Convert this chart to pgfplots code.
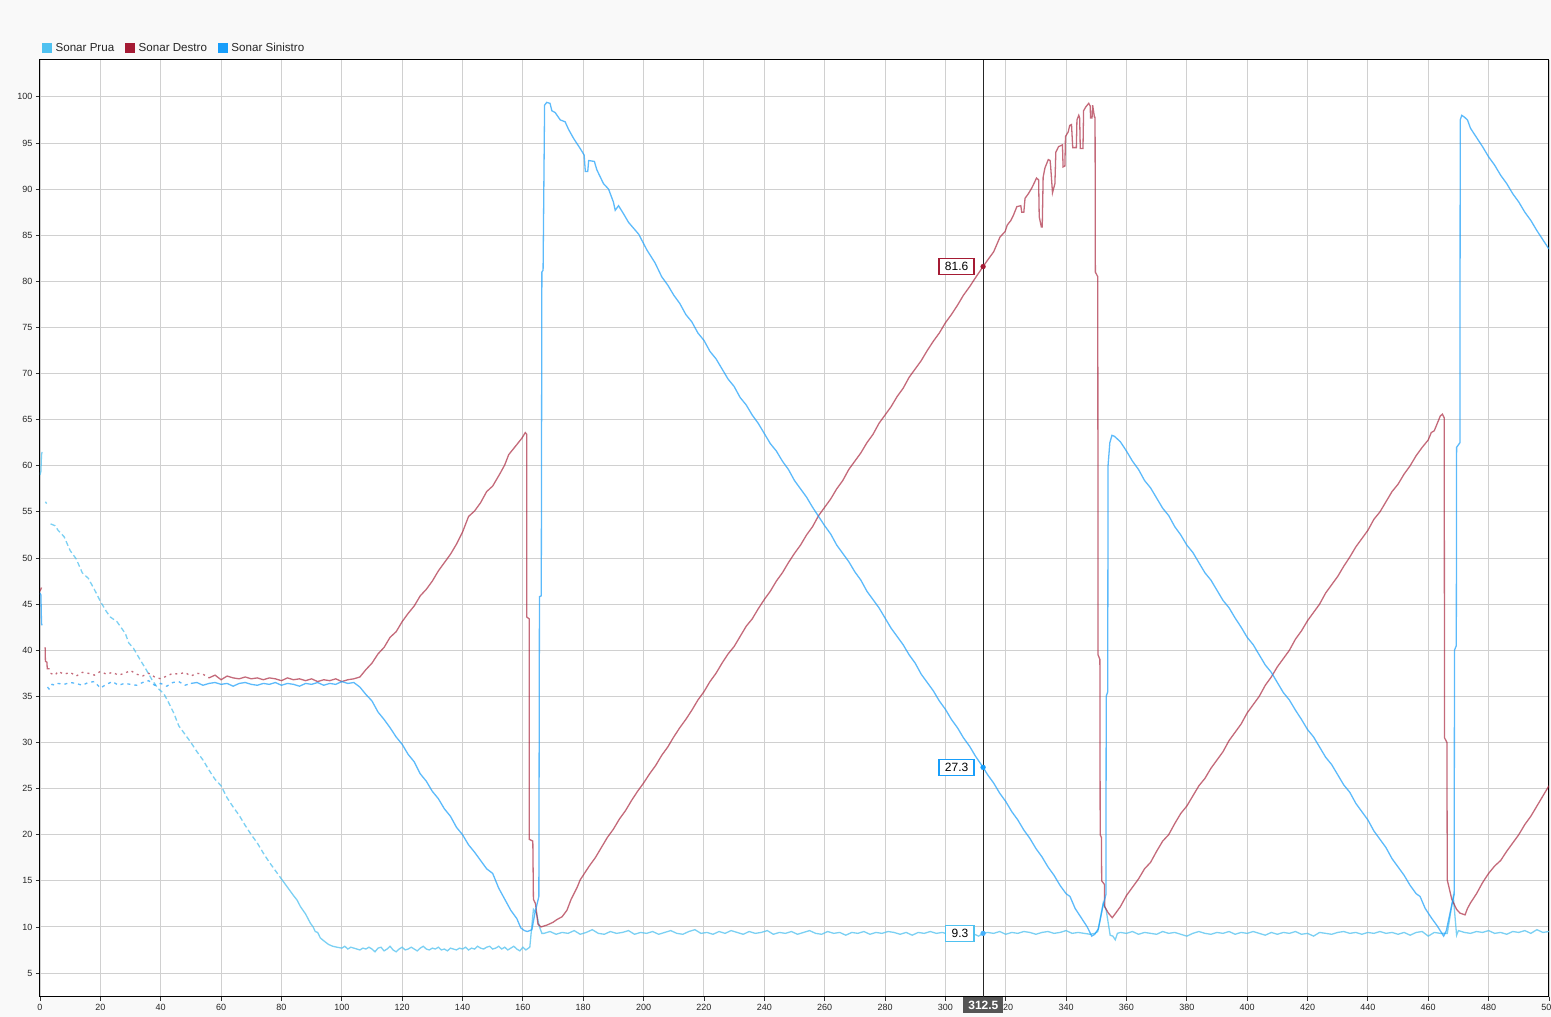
\documentclass[border=0pt]{standalone}
\usepackage{pgfplots}
\pgfplotsset{compat=1.18}
\usepackage{fontspec}
\setmainfont{Liberation Sans}
\definecolor{bgcol}{RGB}{249,249,249}
\definecolor{gridcol}{RGB}{208,208,208}
\definecolor{pruacol}{RGB}{79,193,240}
\definecolor{destrocol}{RGB}{165,27,52}
\definecolor{sinicol}{RGB}{24,158,250}
\definecolor{cursorbox}{RGB}{85,85,85}
\begin{document}
\begin{tikzpicture}
\fill[bgcol] (-40pt,-20pt) rectangle (1511pt,997pt);
\useasboundingbox (-40pt,-20pt) rectangle (1511pt,997pt);
\begin{axis}[
  at={(0,0)}, anchor=south west,
  scale only axis, width=1509pt, height=937pt,
  xmin=0, xmax=500, ymin=2.4, ymax=104,
  xtick={0,20,...,500}, ytick={5,10,...,100},
  grid=major, major grid style={gridcol, line width=0.9pt},
  axis line style={black, line width=1pt},
  tick pos=left, tick align=outside, major tick length=4pt,
  tick style={black!80, line width=0.8pt},
  axis background/.style={fill=white},
  ticklabel style={font=\fontsize{9}{10}\selectfont, text=black!85},
  /pgf/number format/assume math mode=true,
  /pgf/number format/1000 sep={},
  legend columns=3,
  legend style={at={(0,1)}, anchor=south west, xshift=2pt, yshift=5pt,
    draw=none, fill=none, font=\fontsize{11.6}{14}\selectfont, text=black!85,
    inner sep=0pt,
    /tikz/every odd column/.append style={column sep=2pt},
    /tikz/every even column/.append style={column sep=9pt}},
  legend cell align=left,
  clip=true,
]
\addlegendimage{legend image code/.code={\fill[pruacol] (0pt,-4.5pt) rectangle (9pt,4.5pt);}}
\addlegendentry{Sonar Prua}
\addlegendimage{legend image code/.code={\fill[destrocol] (0pt,-4.5pt) rectangle (9pt,4.5pt);}}
\addlegendentry{Sonar Destro}
\addlegendimage{legend image code/.code={\fill[sinicol] (0pt,-4.5pt) rectangle (9pt,4.5pt);}}
\addlegendentry{Sonar Sinistro}

% ---------------- Sonar Prua ----------------
\addplot[forget plot, pruacol, opacity=0.75, line width=1.3pt] coordinates {(0,59.0) (0.3,59.4) (0.5,61.2) (0.7,61.5)};
\addplot[forget plot, pruacol, opacity=0.75, line width=1.3pt] coordinates {(1.8,56.1) (2.2,55.9)};
\addplot[forget plot, pruacol, opacity=0.75, line width=1.3pt, dash pattern=on 5pt off 3pt] coordinates {
(3.5,53.7) (5,53.5) (6,53.0) (8,52.3) (10,50.8) (12,49.9) (14,48.4) (16,47.8) (18,46.6) (20,45.3)
(22,44.2) (23.3,43.6) (25.5,43.1) (28.3,41.8) (29.4,40.8) (31,40.2) (33.3,38.9) (35,38.0) (37.1,36.8) (39,35.9)
(41,35.3) (42.5,34.4) (44.3,33.2) (46,31.8) (48,30.9) (50,30.0) (52,29.0) (54,28.1) (56,27.0) (58,26.0)
(60,25.3) (62,24.0) (64,23.0) (66,22.1) (68,21.0) (70,20.0) (72,19.1) (74,18.0) (76,17.0) (78,16.1) (80,15.2)};
\addplot[forget plot, pruacol, opacity=0.75, line width=1.3pt] coordinates {
(80,15.2) (82,14.3) (84,13.4) (85.2,12.9) (86.3,12.2) (88,11.4) (89.6,10.4) (90.5,10.0) (91.2,9.5) (92,9.4)
(92.9,8.8) (94,8.5) (95.6,8.1) (97,7.9) (98.4,7.8) (100,7.7) (101,7.9) (102,7.6) (103,7.8) (104,7.7)
(105,7.6) (106,7.5) (107,7.7) (108,7.6) (109,7.8) (110,7.6) (111,7.3) (112,7.7) (113,7.8) (114,7.4)
(115,7.6) (116,7.9) (117,7.5) (118,7.3) (119,7.6) (120,7.8) (121,7.5) (122,7.6) (123,7.8) (124,7.6)
(125,7.4) (126,7.7) (127,7.9) (128,7.6) (129,7.5) (130,7.7) (131,7.6) (132,7.8) (133,7.5) (134,7.6)
(135,7.4) (136,7.7) (137,7.6) (138,7.5) (139,7.7) (140,7.6) (141,7.8) (142,7.5) (143,7.7) (144,7.6)
(145,7.9) (146,7.7) (147,7.6) (148,7.8) (149,7.9) (150,7.6) (151,7.7) (152,7.9) (153,7.6) (154,7.8)
(155,7.5) (156,7.7) (157,7.9) (158,7.6) (159,7.4) (160,7.8) (161,7.5) (162.3,7.8) (163.5,11.9) (164.5,11.5)
(165.5,10.0) (166.3,9.3) (167,9.3) (169,9.5) (171,9.2) (173,9.4) (175,9.3) (177,9.6) (179,9.2) (181,9.4)
(183,9.7) (185,9.3) (187,9.2) (189,9.5) (191,9.3) (193,9.4) (195,9.6) (197,9.2) (199,9.4) (201,9.3)
(203,9.5) (205,9.2) (207,9.4) (209,9.6) (211,9.3) (213,9.2) (215,9.5) (217,9.7) (219,9.3) (221,9.4)
(223,9.2) (225,9.5) (227,9.3) (229,9.6) (231,9.4) (233,9.2) (235,9.5) (237,9.3) (239,9.4) (241,9.6)
(243,9.2) (245,9.4) (247,9.3) (249,9.5) (251,9.2) (253,9.4) (255,9.6) (257,9.3) (259,9.2) (261,9.5)
(263,9.3) (265,9.4) (267,9.1) (269,9.4) (271,9.3) (273,9.5) (275,9.2) (277,9.4) (279,9.3) (281,9.5)
(283,9.4) (285,9.2) (287,9.4) (289,9.1) (291,9.4) (293,9.3) (295,9.5) (297,9.3) (299,9.4) (301,9.2)
(303,9.4) (305,9.3) (307,9.5) (309,9.3) (311,9.0) (312.5,9.3) (314,9.4) (316,9.3) (318,9.5) (320,9.2)
(322,9.4) (324,9.3) (326,9.5) (328,9.4) (330,9.2) (332,9.4) (334,9.5) (336,9.3) (338,9.4) (340,9.6)
(342,9.3) (344,9.4) (346,9.3) (348,9.2) (349.5,9.3) (350.5,9.5) (352.3,12.6) (353.3,11.8) (354.6,9.1) (355.5,9.0)
(356.3,8.6) (357,9.3) (358,9.4) (360,9.3) (362,9.5) (364,9.2) (366,9.4) (368,9.3) (370,9.2) (372,9.5)
(374,9.3) (376,9.4) (378,9.2) (380,9.0) (382,9.3) (384,9.5) (386,9.3) (388,9.2) (390,9.4) (392,9.3)
(394,9.5) (396,9.2) (398,9.4) (400,9.3) (402,9.5) (404,9.3) (406,9.1) (408,9.4) (410,9.2) (412,9.4)
(414,9.3) (416,9.5) (418,9.2) (420,9.3) (422,9.0) (424,9.4) (426,9.3) (428,9.2) (430,9.4) (432,9.5)
(434,9.3) (436,9.4) (438,9.2) (440,9.4) (442,9.3) (444,9.5) (446,9.3) (448,9.4) (450,9.2) (452,9.4)
(454,9.1) (456,9.4) (458,9.5) (460,9.0) (462,9.4) (464,9.3) (466.3,9.3) (468.3,13.3) (469.4,9.1) (470,9.6)
(472,9.4) (474,9.3) (476,9.5) (478,9.4) (480,9.6) (482,9.3) (484,9.4) (486,9.2) (488,9.5) (490,9.4)
(492,9.6) (494,9.3) (496,9.7) (498,9.4) (500,9.5)};

% ---------------- Sonar Destro ----------------
\addplot[forget plot, destrocol, opacity=0.65, line width=1.3pt] coordinates {(0,46.4) (0.5,46.8)};
\addplot[forget plot, destrocol, opacity=0.65, line width=1.3pt] coordinates {(1.7,40.3) (1.8,38.8) (2.3,38.7) (2.4,38.0) (3.2,38.0)};
\addplot[forget plot, destrocol, opacity=0.65, line width=1.3pt, dash pattern=on 2pt off 4pt] coordinates {
(3.5,37.5) (5,37.3) (6,37.7) (8,37.4) (10,37.6) (12,37.2) (14,37.6) (16,37.5) (18,37.3) (20,37.7)
(22,37.4) (24,37.6) (26,37.3) (28,37.5) (30,37.8) (32,37.4) (34,37.2) (36,37.5) (38,37.1) (40,36.9)
(42,37.2) (44,37.5) (46,37.4) (48,37.6) (50,37.2) (52,37.5) (54,37.4) (56,37.0)};
\addplot[forget plot, destrocol, opacity=0.65, line width=1.3pt] coordinates {
(56,37.0) (58,37.3) (60,36.8) (62,37.2) (64,37.0) (66,36.9) (68,37.1) (70,36.9) (72,37.0) (74,36.8)
(76,37.0) (78,36.9) (80,36.7) (82,37.0) (84,36.8) (86,36.9) (88,36.7) (90,36.9) (92,36.6) (94,36.8)
(96,36.7) (98,36.9) (100,36.6) (102,36.8) (104,36.9) (106,37.1) (108,37.9) (110,38.6) (112,39.6) (114,40.3)
(116,41.4) (118,42.0) (120,43.1) (122,44.0) (124,44.8) (126,45.9) (128,46.6) (130,47.5) (132,48.6) (134,49.5)
(136,50.4) (138,51.5) (140,52.8) (142,54.5) (144,55.1) (146,56.0) (148,57.2) (150,57.8) (152.5,59.2) (154,60.1)
(155.3,61.2) (158,62.3) (159.7,63.0) (160.8,63.6) (161.3,63.4) (161.3,43.6) (162.1,43.4) (162.1,19.5) (163.3,19.3) (163.5,13.0)
(164.2,12.5) (165,10.3) (166,10.0) (168,10.2) (170,10.5) (171.3,10.8) (173,11.1) (174.6,11.8) (176,13.0) (178,14.3)
(179,15.1) (180,15.6) (182,16.6) (184,17.5) (186,18.6) (188,19.7) (190,20.6) (192,21.7) (194,22.6) (196,23.7)
(198,24.7) (200,25.6) (202,26.6) (204,27.5) (206,28.6) (208,29.5) (210,30.6) (212,31.6) (214,32.5) (216,33.5)
(218,34.6) (220,35.5) (222,36.6) (224,37.5) (226,38.6) (228,39.6) (230,40.4) (232,41.5) (234,42.6) (236,43.4)
(238,44.5) (240,45.5) (242,46.4) (244,47.5) (246,48.4) (248,49.5) (250,50.5) (252,51.4) (254,52.5) (256,53.4)
(258,54.6) (260,55.5) (262,56.4) (264,57.5) (266,58.4) (268,59.6) (270,60.5) (272,61.4) (274,62.5) (276,63.4)
(278,64.6) (280,65.5) (282,66.4) (284,67.5) (286,68.4) (288,69.6) (290,70.5) (292,71.4) (294,72.5) (296,73.5)
(298,74.4) (300,75.5) (302,76.4) (304,77.4) (306,78.5) (308,79.4) (310,80.4) (312.5,81.6) (314,82.3) (316,83.2)
(318.1,84.8) (319.8,85.4) (320.5,86.1) (321.7,86.6) (322.6,87.2) (323.7,88.1) (325,88.2) (325.3,87.5) (326,87.5) (326.4,89.0)
(327.5,89.5) (328.6,90.1) (329.2,90.5) (330.2,91.2) (330.9,91.0) (331.1,87.0) (331.8,85.9) (332.1,85.9) (332.4,91.3) (333.0,92.3)
(334.1,93.2) (334.7,93.1) (334.9,92.4) (335.5,89.6) (336.3,90.6) (336.6,94.0) (337.5,94.6) (338.8,94.8) (339.0,92.4) (339.6,92.5)
(339.8,95.7) (340.7,96.2) (341.2,96.9) (341.8,97.0) (342.2,94.5) (343.4,94.5) (343.6,97.5) (344.2,98.0) (344.5,97.7) (344.7,94.4)
(345.6,94.4) (345.8,98.5) (346.5,98.9) (347.5,99.3) (348.0,99.0) (348.1,97.7) (348.6,97.7) (348.8,99.1) (349.4,97.8) (349.6,97.8)
(349.7,81.0) (350.5,80.5) (350.6,39.5) (351.2,39.0) (351.3,20.0) (351.7,19.7) (351.8,15.0) (352.7,14.6) (352.8,12.2) (354,11.5)
(355.3,11.0) (356,11.3) (358,12.2) (360,13.4) (362,14.3) (364,15.2) (366,16.3) (368,17.0) (370,18.2) (372,19.3)
(374,20.0) (376,21.2) (378,22.3) (380,23.1) (382,24.2) (384,25.3) (386,26.1) (388,27.2) (390,28.1) (392,29.0)
(394,30.2) (396,31.1) (398,32.0) (400,33.2) (402,34.1) (404,35.0) (406,36.2) (408,37.1) (410,38.2) (412,39.1)
(414,40.0) (416,41.2) (418,42.1) (420,43.2) (422,44.1) (424,45.0) (426,46.2) (428,47.1) (430,48.0) (432,49.1)
(434,50.1) (436,51.2) (438,52.1) (440,53.0) (442,54.2) (444,55.0) (446,56.1) (448,57.2) (450,58.0) (452,59.1)
(454,60.0) (456,61.1) (458,62.0) (460,62.8) (461,63.6) (462,63.8) (463,64.6) (464,65.4) (464.7,65.6) (465.3,65.2)
(465.4,30.5) (466.2,30.0) (466.3,15.1) (467.8,13.0) (469.4,11.9) (470.5,11.5) (472.2,11.3) (473,12.0) (474,12.6) (476,13.6)
(478,14.8) (480,15.8) (482,16.6) (484,17.2) (486,18.2) (488,19.1) (490,20.0) (492,21.1) (494,22.0) (496,23.1)
(498,24.2) (500,25.3)};

% ---------------- Sonar Sinistro ----------------
\addplot[forget plot, sinicol, opacity=0.7, line width=1.3pt] coordinates {(0,46.2) (0.3,46.0) (0.5,42.9) (0.7,42.7)};
\addplot[forget plot, sinicol, opacity=0.7, line width=1.3pt, dash pattern=on 3pt off 4pt] coordinates {
(2.5,36.0) (3,35.8) (4,36.3) (5,36.2) (6,36.4) (8,36.3) (10,36.5) (12,36.4) (14,36.2) (16,36.5)
(18,36.6) (20,35.9) (22,36.3) (24,36.6) (26,36.2) (28,36.4) (30,36.3) (32,36.2) (34,36.5) (36,36.7)
(38,36.2) (40,36.4) (42,36.1) (44,36.5) (46,36.6) (48,36.2) (50,36.4)};
\addplot[forget plot, sinicol, opacity=0.7, line width=1.3pt] coordinates {
(50,36.4) (52,36.5) (54,36.2) (56,36.4) (58,36.5) (60,36.3) (62,36.4) (64,36.1) (66,36.4) (68,36.5)
(70,36.3) (72,36.2) (74,36.4) (76,36.3) (78,36.5) (80,36.2) (82,36.4) (84,36.3) (86,36.1) (88,36.4)
(90,36.3) (92,36.5) (94,36.2) (96,36.4) (98,36.3) (100,36.6) (102,36.4) (104,36.5) (106,36.0) (108,35.2)
(110,34.5) (112,33.3) (114,32.5) (116,31.6) (118,30.6) (120,29.8) (122,28.7) (124,27.9) (126,26.6) (128,25.8)
(130,24.7) (132,23.9) (134,22.8) (136,22.0) (138,20.8) (140,20.0) (142,18.9) (144,18.1) (146,17.2) (148,16.3)
(150,15.8) (152,14.2) (154,13.0) (156,11.8) (158,10.9) (159.3,9.9) (160.5,9.6) (161.5,9.5) (163,9.7) (164,11.5)
(165.3,13.3) (165.5,45.8) (166.1,45.9) (166.3,81.0) (166.7,81.2) (167.2,99.1) (167.9,99.4) (169.0,99.3) (169.6,98.5) (170.7,98.3)
(172.4,97.5) (174.0,97.3) (175.1,96.5) (176.8,95.5) (179.0,94.4) (180.3,93.7) (180.7,91.9) (181.5,91.9) (181.8,93.1) (183.7,93.0)
(184.5,92.1) (186.7,90.6) (188.4,90.0) (190.0,88.6) (190.6,87.7) (191.7,88.2) (193.4,87.3) (195.0,86.4) (198.4,85.1) (201.1,83.4)
(203.8,82.0) (206.0,80.5) (208,79.6) (210,78.5) (212,77.6) (214,76.4) (216,75.6) (218,74.4) (220,73.6) (222,72.4)
(224,71.6) (226,70.5) (228,69.4) (230,68.6) (232,67.4) (234,66.6) (236,65.5) (238,64.6) (240,63.5) (242,62.4)
(244,61.6) (246,60.5) (248,59.6) (250,58.4) (252,57.5) (254,56.6) (256,55.5) (258,54.5) (260,53.5) (262,52.6)
(264,51.4) (266,50.5) (268,49.6) (270,48.5) (272,47.6) (274,46.4) (276,45.5) (278,44.6) (280,43.5) (282,42.4)
(284,41.5) (286,40.6) (288,39.5) (290,38.6) (292,37.4) (294,36.5) (296,35.6) (298,34.5) (300,33.6) (302,32.5)
(304,31.6) (306,30.5) (308,29.6) (310,28.5) (312.5,27.3) (314,26.5) (316,25.6) (318,24.5) (320,23.6) (322,22.5)
(324,21.6) (326,20.5) (328,19.6) (330,18.5) (332,17.6) (334,16.5) (336,15.6) (338,14.5) (340,13.6) (341.3,13.3)
(343,12.0) (345,11.0) (347,10.0) (348.5,9.0) (349.5,9.2) (350.7,9.8) (352.3,12.4) (353.2,13.5) (353.3,35.0) (353.8,35.5)
(353.9,60.0) (354.5,62.5) (355.2,63.3) (356,63.2) (358,62.6) (360,61.6) (362,60.5) (364,59.6) (366,58.4) (368,57.6)
(370,56.5) (372,55.4) (374,54.6) (376,53.4) (378,52.5) (380,51.4) (382,50.6) (384,49.5) (386,48.4) (388,47.6)
(390,46.5) (392,45.4) (394,44.6) (396,43.5) (398,42.5) (400,41.4) (402,40.6) (404,39.5) (406,38.4) (408,37.6)
(410,36.5) (412,35.4) (414,34.6) (416,33.5) (418,32.5) (420,31.4) (422,30.6) (424,29.5) (426,28.4) (428,27.6)
(430,26.5) (432,25.4) (434,24.6) (436,23.4) (438,22.5) (440,21.6) (442,20.4) (444,19.5) (446,18.6) (448,17.4)
(450,16.5) (452,15.6) (454,14.5) (456,13.6) (457.3,13.3) (459,12.0) (461,11.0) (463,10.1) (465.1,9.0) (466,9.6)
(467.8,12.4) (468.6,13.5) (468.7,40.0) (469.3,40.5) (469.4,62.0) (470.5,62.5) (470.6,97.5) (471.1,98.0) (472,97.8) (473,97.5)
(474,96.6) (476,95.6) (478,94.6) (480,93.5) (482,92.6) (484,91.5) (486,90.6) (488,89.5) (490,88.6) (492,87.5)
(494,86.6) (496,85.5) (498,84.5) (500,83.5)};

% ---------------- cursor ----------------
\draw[black!85, line width=0.9pt] (axis cs:312.5,2.4) -- (axis cs:312.5,104);
\addplot[forget plot, only marks, mark=*, mark size=2.4pt, destrocol] coordinates {(312.5,81.6)};
\addplot[forget plot, only marks, mark=*, mark size=2.4pt, sinicol] coordinates {(312.5,27.3)};
\addplot[forget plot, only marks, mark=*, mark size=2.4pt, sinicol!80] coordinates {(312.5,9.3)};
\node[draw=destrocol, fill=white, line width=1.6pt, anchor=east, inner xsep=6pt, inner ysep=0pt, minimum height=16pt,
  font=\fontsize{12}{12}\selectfont, xshift=-8pt] at (axis cs:312.5,81.6) {81.6};
\node[draw=sinicol, fill=white, line width=1.6pt, anchor=east, inner xsep=6pt, inner ysep=0pt, minimum height=16pt,
  font=\fontsize{12}{12}\selectfont, xshift=-8pt] at (axis cs:312.5,27.3) {27.3};
\node[draw=pruacol, fill=white, line width=1.6pt, anchor=east, inner xsep=6pt, inner ysep=0pt, minimum height=16pt,
  font=\fontsize{12}{12}\selectfont, xshift=-8pt] at (axis cs:312.5,9.3) {9.3};
\end{axis}
\node[fill=cursorbox, text=white, anchor=north, minimum width=40pt, minimum height=16pt, inner sep=0pt,
  font=\fontsize{12}{12}\selectfont\bfseries] at (943.4pt,0pt) {312.5};
\end{tikzpicture}
\end{document}
